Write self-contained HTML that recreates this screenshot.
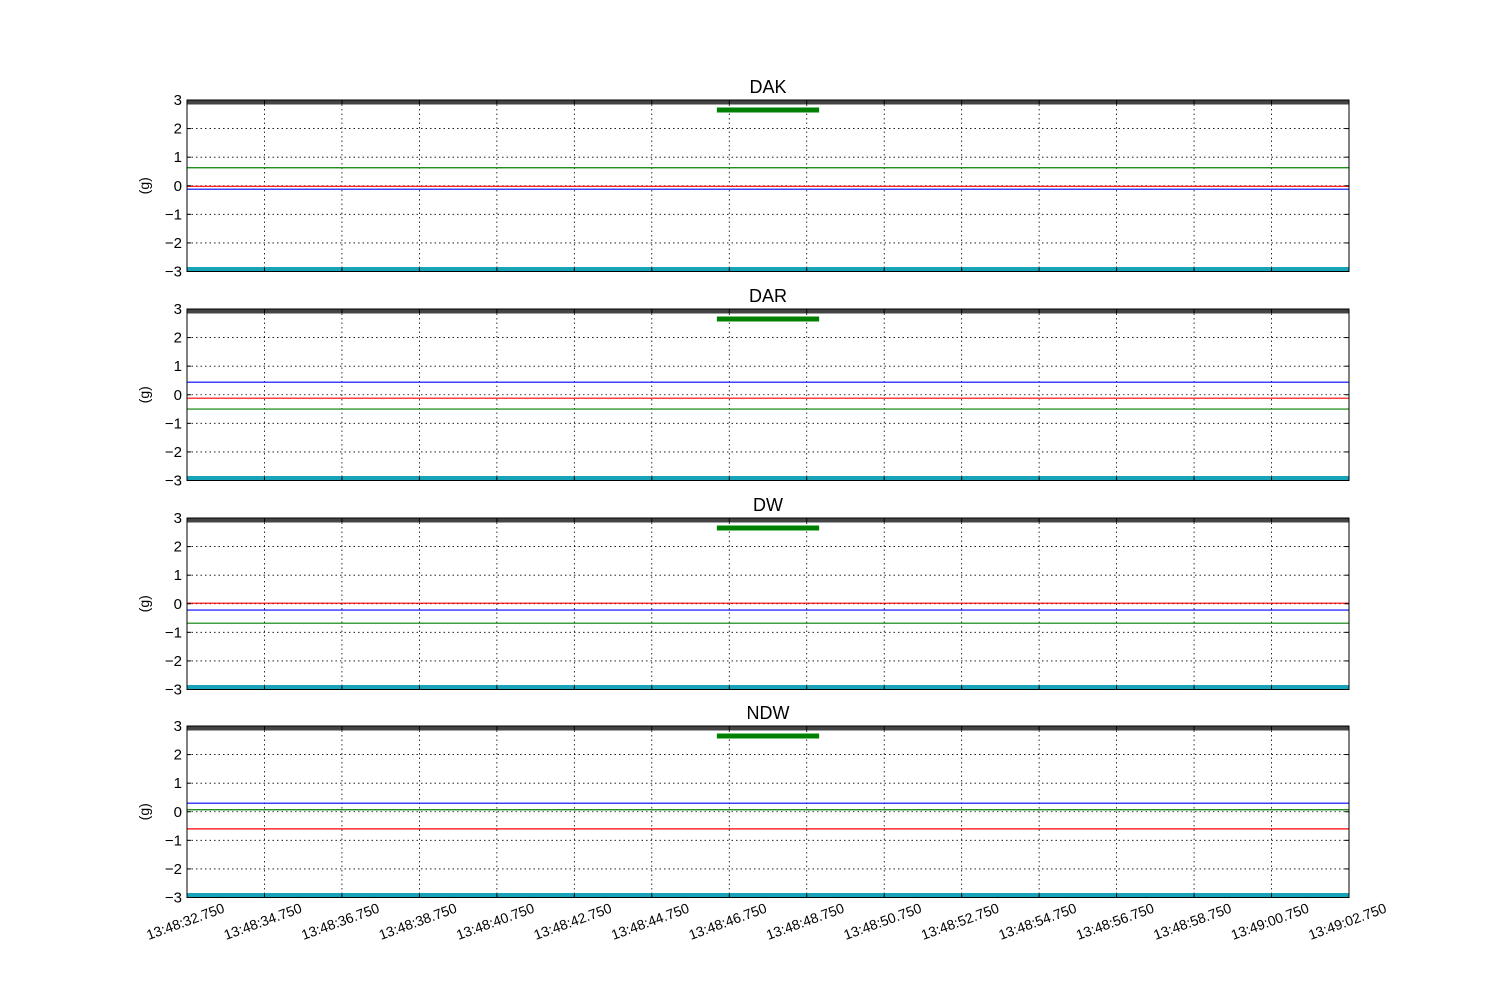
<!DOCTYPE html>
<html><head><meta charset="utf-8"><style>
body{margin:0;background:#fff}
svg{display:block;font-family:"Liberation Sans","DejaVu Sans",sans-serif}
</style></head><body>
<svg id="c" width="1500" height="1000"></svg>
<script>
const panelNames=["DAK","DAR","DW","NDW"];
const redVals=[-0.02,-0.12,0.02,-0.6];
const greenVals=[0.63,-0.5,-0.68,0.07];
const blueVals=[-0.12,0.44,-0.22,0.3];
const yTicks=[3,2,1,0,-1,-2,-3];
const xTickLabels=["13:48:32.750","13:48:34.750","13:48:36.750","13:48:38.750","13:48:40.750","13:48:42.750","13:48:44.750","13:48:46.750","13:48:48.750","13:48:50.750","13:48:52.750","13:48:54.750","13:48:56.750","13:48:58.750","13:49:00.750","13:49:02.750"];
const barStart=[13.68];const barEnd=[16.32]; // seconds from start for the green bar
const barLevel=[2.65];

const NS="http://www.w3.org/2000/svg";
const svg=document.getElementById('c');
function el(t,a,p){const e=document.createElementNS(NS,t);for(const k in a)e.setAttribute(k,a[k]);(p||svg).appendChild(e);return e;}
const L=187,R=1349,tops=[100,309,518,726],H=171.5;
const xs=s=>L+(R-L)*s/30;
panelNames.forEach((nm,i)=>{
  const top=tops[i];
  const ys=v=>top+(3-v)/6*H;
  const g=el('g',{});
  
  
  for(let k=1;k<xTickLabels.length-1;k++){const x=xs(k*2);el('line',{x1:x,x2:x,y1:top,y2:top+H,stroke:'#000','stroke-width':0.8,'stroke-dasharray':'1.5,3'},g);}
  yTicks.forEach(v=>{if(v===3||v===-3)return;const y=ys(v);el('line',{x1:L,x2:R,y1:y,y2:y,stroke:'#000','stroke-width':0.8,'stroke-dasharray':'1.5,3'},g);});
  el('line',{x1:L,x2:R,y1:ys(3)+2,y2:ys(3)+2,stroke:'#444','stroke-width':5},g);
  el('line',{x1:L,x2:R,y1:ys(-3)-2,y2:ys(-3)-2,stroke:'#17a3b8','stroke-width':5},g);
  const gb=el('line',{x1:xs(barStart[0]),x2:xs(barEnd[0]),y1:ys(barLevel[0]),y2:ys(barLevel[0]),stroke:'#008000','stroke-width':5},g);
  
  [[greenVals,'#008000'],[redVals,'#ff0000'],[blueVals,'#0000ff']].forEach(([arr,c])=>{
    const ln=el('line',{x1:L,x2:R,y1:ys(arr[i]),y2:ys(arr[i]),stroke:c,'stroke-width':1.2},g);
    
  });
  el('rect',{x:L,y:top,width:R-L,height:H,fill:'none',stroke:'#000','stroke-width':1},g);
  yTicks.forEach(v=>{const y=ys(v);
    el('line',{x1:L,x2:L+4,y1:y,y2:y,stroke:'#000'},g);el('line',{x1:R-4,x2:R,y1:y,y2:y,stroke:'#000'},g);
    const t=el('text',{x:L-5,y:y+5,'text-anchor':'end','font-size':15},g);t.textContent=(v<0?'\u2212'+(-v):v);});
  for(let k=0;k<xTickLabels.length;k++){const x=xs(k*2);el('line',{x1:x,x2:x,y1:top,y2:top+4,stroke:'#000'},g);el('line',{x1:x,x2:x,y1:top+H-4,y2:top+H,stroke:'#000'},g);}
  const tt=el('text',{x:(L+R)/2,y:top-7,'text-anchor':'middle','font-size':18},g);tt.textContent=nm;
  
  const yl=el('text',{x:0,y:0,'text-anchor':'middle','font-size':14,transform:`translate(149,${top+H/2}) rotate(-90)`},g);yl.textContent='(g)';
  
});
xTickLabels.forEach((lb,k)=>{const x=xs(k*2);
  const t=el('text',{x:0,y:0,'text-anchor':'middle','font-size':14,transform:`translate(${x},${926}) rotate(-20)`});t.textContent=lb;
  });
</script>
</body></html>
